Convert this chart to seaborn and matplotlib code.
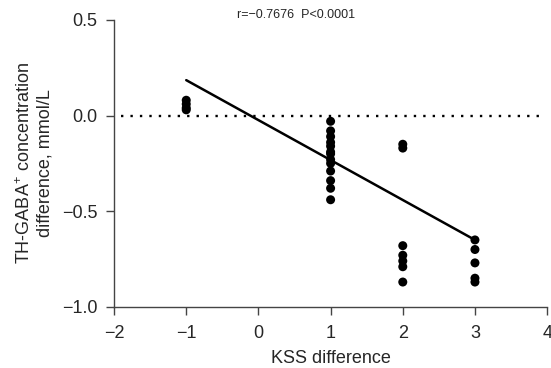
import seaborn as sns
import matplotlib.pyplot as plt
import pandas as pd

# KSS difference values and TH-GABA+ concentration difference (mmol/L)
kss_m1 = [-1, -1, -1, -1]
gaba_m1 = [0.08, 0.06, 0.04, 0.03]
kss_1 = [1] * 13
gaba_1 = [-0.03, -0.08, -0.11, -0.14, -0.16, -0.19, -0.20, -0.23, -0.25,
          -0.29, -0.34, -0.38, -0.44]
kss_2 = [2] * 7
gaba_2 = [-0.15, -0.17, -0.68, -0.73, -0.76, -0.79, -0.87]
kss_3 = [3] * 5
gaba_3 = [-0.65, -0.70, -0.77, -0.85, -0.87]

# fitted regression line as printed in the figure
fit_x = [-1, 3]
fit_y = [0.185, -0.65]

x_ticks = [-2, -1, 0, 1, 2, 3, 4]
y_ticks = [-1.0, -0.5, 0.0, 0.5]
stat_text = "r=\u22120.7676  P<0.0001"

df = pd.DataFrame({
    "kss": kss_m1 + kss_1 + kss_2 + kss_3,
    "gaba": gaba_m1 + gaba_1 + gaba_2 + gaba_3,
})
fit = pd.DataFrame({"kss": fit_x, "gaba": fit_y})

sns.set_style("ticks")
plt.rcParams["font.family"] = ["Liberation Sans", "DejaVu Sans"]
plt.rcParams["mathtext.fontset"] = "custom"
plt.rcParams["mathtext.rm"] = "Liberation Sans"

fig, ax = plt.subplots(figsize=(5.51, 3.68), dpi=100)
fig.subplots_adjust(left=0.207, right=0.993, top=0.946, bottom=0.166)

ax.axhline(0, xmin=0.015, xmax=0.985, color="black", lw=1.7,
           ls=(0, (1, 3)), zorder=1)
sns.scatterplot(data=df, x="kss", y="gaba", ax=ax, color="black", s=42,
                edgecolor="none", zorder=3)
sns.lineplot(data=fit, x="kss", y="gaba", ax=ax, color="black", lw=1.8,
             zorder=2)

ax.set_xlim(-2, 4)
ax.set_ylim(-1.0, 0.5)
ax.set_xticks(x_ticks)
ax.set_yticks(y_ticks)
ax.set_xticklabels([str(t).replace("-", "\u2212") for t in x_ticks])
ax.set_yticklabels([f"{t:.1f}".replace("-", "\u2212") for t in y_ticks])
ax.tick_params(labelsize=13, length=6, width=1, direction="out",
               color="#444444")
ax.tick_params(axis="x", pad=7)
ax.tick_params(axis="y", pad=6)
for s in ["left", "bottom"]:
    ax.spines[s].set_linewidth(1)
    ax.spines[s].set_color("#444444")
sns.despine(ax=ax)

ax.set_xlabel("KSS difference", fontsize=13, labelpad=6)
ax.set_ylabel("TH-GABA$^{+}$ concentration\ndifference, mmol/L", fontsize=13,
              labelpad=6)
ax.text(0.42, 1.017, stat_text, transform=ax.transAxes, fontsize=9,
        ha="center", va="center")

fig.savefig("out.png", dpi=100)
